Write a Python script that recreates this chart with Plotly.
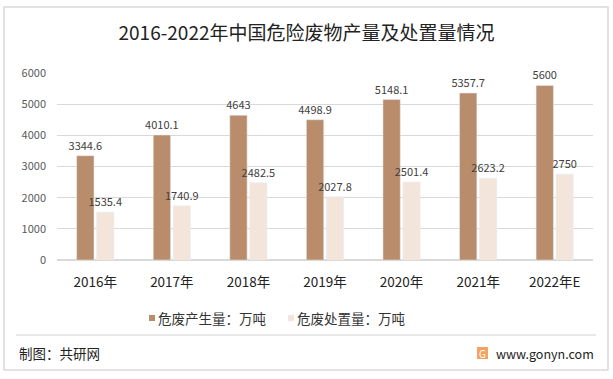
import plotly.graph_objects as go

categories = ["2016年", "2017年", "2018年", "2019年", "2020年", "2021年", "2022年E"]
production = [3344.6, 4010.1, 4643, 4498.9, 5148.1, 5357.7, 5600]
disposal = [1535.4, 1740.9, 2482.5, 2027.8, 2501.4, 2623.2, 2750]
prod_labels = ["3344.6", "4010.1", "4643", "4498.9", "5148.1", "5357.7", "5600"]
disp_labels = ["1535.4", "1740.9", "2482.5", "2027.8", "2501.4", "2623.2", "2750"]
series_names = ["危废产生量：万吨", "危废处置量：万吨"]
y_ticks = [0, 1000, 2000, 3000, 4000, 5000, 6000]

W, H = 613, 379
L, R, T, B = 57, 20, 73, 119
pw, ph = W - L - R, H - T - B

def px(x):
    return (x - L) / pw

def py(y):
    return (H - B - y) / ph

FONT = "Noto Sans CJK SC, Microsoft YaHei, sans-serif"
C1, C2 = "#B98C6B", "#F4E5DA"
colors = [C1, C2]

fig = go.Figure()
fig.add_trace(go.Bar(x=categories, y=production, name=series_names[0], marker_color=C1,
                     text=prod_labels, textposition="outside", cliponaxis=False,
                     constraintext="none", showlegend=False, hoverinfo="skip",
                     textfont=dict(size=11, color="#404040")))
fig.add_trace(go.Bar(x=categories, y=disposal, name=series_names[1], marker_color=C2,
                     text=disp_labels, textposition="outside", cliponaxis=False,
                     constraintext="none", showlegend=False, hoverinfo="skip",
                     textfont=dict(size=11, color="#404040")))

fig.update_layout(
    width=W, height=H,
    margin=dict(l=L, r=R, t=T, b=B),
    paper_bgcolor="white", plot_bgcolor="white",
    font=dict(family=FONT, color="#404040"),
    barmode="group", bargap=0.48, bargroupgap=0.13,
    title=dict(text="2016-2022年中国危险废物产量及处置量情况", x=0.5, xanchor="center",
               y=1 - 33 / H, yanchor="middle", font=dict(size=19, color="#222222")),
    showlegend=False,
    xaxis=dict(showgrid=False, showline=False, ticks="", ticklabelstandoff=12,
               tickfont=dict(size=13.5, color="#222222")),
    yaxis=dict(range=[0, 6000], tickvals=y_ticks, showgrid=True, gridcolor="#D9D9D9",
               gridwidth=1, zeroline=True, zerolinecolor="#D9D9D9", showline=False,
               tickfont=dict(size=11, color="#595959"), ticklabelstandoff=10),
)

shapes = [
    dict(type="rect", xref="paper", yref="paper", x0=px(4), x1=px(608), y0=py(7), y1=py(370),
         line=dict(color="#D9D9D9", width=1.5), fillcolor="rgba(0,0,0,0)", layer="below"),
    dict(type="line", xref="paper", yref="paper", x0=px(16), x1=px(596), y0=py(335), y1=py(335),
         line=dict(color="#D0D0D0", width=1)),
    dict(type="rect", xref="paper", yref="paper", x0=px(477), x1=px(488), y0=py(347), y1=py(359),
         line=dict(width=0), fillcolor="#F4A261"),
]
# manual legend
leg_x = [149, 288]
for i, name in enumerate(series_names):
    shapes.append(dict(type="rect", xref="paper", yref="paper", x0=px(leg_x[i]), x1=px(leg_x[i] + 6),
                       y0=py(321), y1=py(315), line=dict(width=0), fillcolor=colors[i]))
    fig.add_annotation(text=name, xref="paper", yref="paper", x=px(leg_x[i] + 7), y=py(318),
                       xanchor="left", yanchor="middle", showarrow=False,
                       font=dict(size=13.5, color="#333333"))
fig.update_layout(shapes=shapes)

fig.add_annotation(text="制图：共研网", xref="paper", yref="paper", x=px(17), y=py(353),
                   xanchor="left", yanchor="middle", showarrow=False,
                   font=dict(size=13.5, color="#222222"))
fig.add_annotation(text="www.gonyn.com", xref="paper", yref="paper", x=px(494), y=py(353),
                   xanchor="left", yanchor="middle", showarrow=False,
                   font=dict(size=12.5, color="#222222"))
fig.add_annotation(text="G", xref="paper", yref="paper", x=px(482.5), y=py(353),
                   xanchor="center", yanchor="middle", showarrow=False,
                   font=dict(size=10, color="white"))

fig.write_html("out.html", post_script="document.body.style.margin='0';",
               config={"displayModeBar": False})
